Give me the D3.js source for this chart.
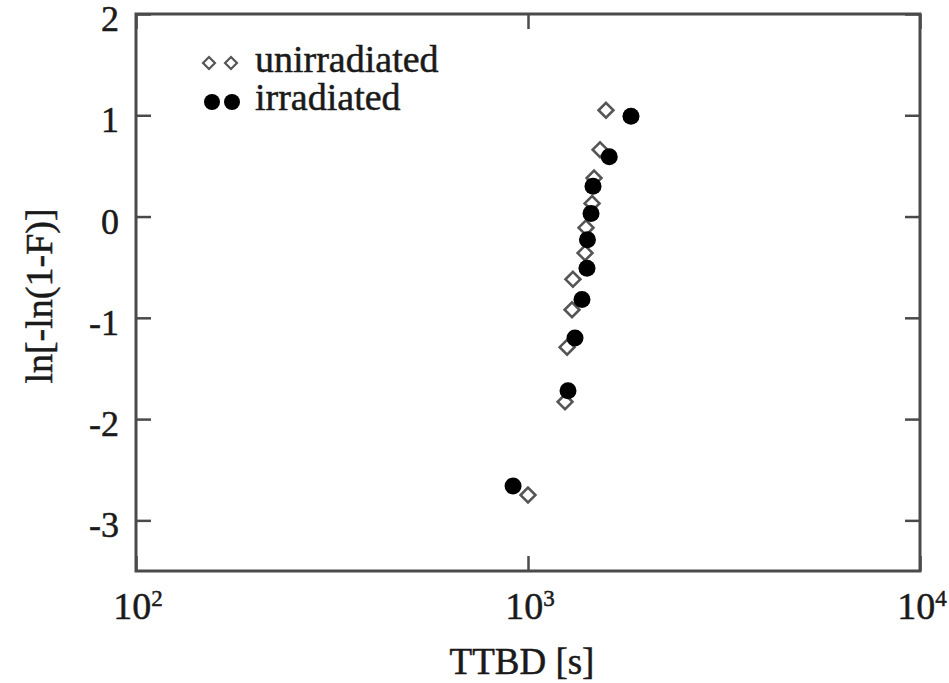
<!DOCTYPE html>
<html>
<head>
<meta charset="utf-8">
<script src="https://cdn.jsdelivr.net/npm/d3@7"></script>
<style>
  html, body { margin: 0; padding: 0; background: #fff; }
  svg { display: block; }
  text { stroke: #1a1a1a; stroke-width: 0.5px; }
</style>
</head>
<body>
<svg id="chart" width="949" height="683" font-family="'Liberation Serif', 'Times New Roman', 'DejaVu Serif', serif"></svg>
<script>
// Weibull plot of time-to-breakdown (TTBD)
const ttbdUnirradiated = [1000, 1243, 1258, 1295, 1302, 1398, 1406, 1457, 1474, 1527, 1581];
const weibullUnirradiated = [-2.75, -1.83, -1.29, -0.92, -0.62, -0.36, -0.11, 0.13, 0.38, 0.66, 1.05];

const ttbdIrradiated = [916, 1265, 1318, 1373, 1414, 1418, 1448, 1465, 1612, 1831];
const weibullIrradiated = [-2.66, -1.72, -1.20, -0.82, -0.51, -0.23, 0.03, 0.30, 0.59, 0.99];

const xTickExponents = [2, 3, 4];
const yTicks = [-3, -2, -1, 0, 1, 2];
const seriesNames = ["unirradiated", "irradiated"];

const svg = d3.select("#chart");
const frame = { left: 136, right: 920, top: 14, bottom: 571 };

const x = d3.scaleLog().domain([100, 10000]).range([frame.left, frame.right]);
const y = d3.scaleLinear().domain([-3.5, 2]).range([frame.bottom, frame.top]);

const axisColor = "#4a4a4a";
const textColor = "#1a1a1a";
const tickLen = 15;

// inward ticks on all four sides
const xTickValues = xTickExponents.map(e => Math.pow(10, e));
const bottomAxis = d3.axisBottom(x).tickValues(xTickValues).tickSize(-tickLen).tickFormat("");
const topAxis = d3.axisTop(x).tickValues(xTickValues).tickSize(-tickLen).tickFormat("");
const leftAxis = d3.axisLeft(y).tickValues(yTicks).tickSize(-tickLen).tickFormat("");
const rightAxis = d3.axisRight(y).tickValues(yTicks).tickSize(-tickLen).tickFormat("");

function styleAxis(g) {
  g.select(".domain").remove();
  g.selectAll(".tick line").attr("stroke", axisColor).attr("stroke-width", 2.5);
}
svg.append("g").attr("transform", `translate(0,${frame.bottom})`).call(bottomAxis).call(styleAxis);
svg.append("g").attr("transform", `translate(0,${frame.top})`).call(topAxis).call(styleAxis);
svg.append("g").attr("transform", `translate(${frame.left},0)`).call(leftAxis).call(styleAxis);
svg.append("g").attr("transform", `translate(${frame.right},0)`).call(rightAxis).call(styleAxis);

// plot frame
svg.append("rect")
  .attr("x", frame.left).attr("y", frame.top)
  .attr("width", frame.right - frame.left).attr("height", frame.bottom - frame.top)
  .attr("fill", "none").attr("stroke", axisColor).attr("stroke-width", 3);

// y tick labels
svg.append("g").selectAll("text").data(yTicks).join("text")
  .attr("x", frame.left - 17)
  .attr("y", d => y(d) + 17)
  .attr("text-anchor", "end")
  .attr("fill", textColor)
  .style("font-size", "36px")
  .text(d => String(d));

// x tick labels as powers of ten
const xLabels = svg.append("g").selectAll("text").data(xTickExponents).join("text")
  .attr("x", d => x(Math.pow(10, d)) + 2)
  .attr("y", 619)
  .attr("text-anchor", "middle")
  .attr("fill", textColor)
  .style("font-size", "38px");
xLabels.append("tspan").text("10");
xLabels.append("tspan").attr("dy", -13).style("font-size", "23px").text(d => String(d));

// axis titles
svg.append("text")
  .attr("x", 522).attr("y", 674)
  .attr("text-anchor", "middle")
  .attr("fill", textColor)
  .style("font-size", "37px")
  .text("TTBD [s]");

svg.append("text")
  .attr("transform", "translate(52,296) rotate(-90)")
  .attr("text-anchor", "middle")
  .attr("fill", textColor)
  .style("font-size", "38px")
  .text("ln[-ln(1-F)]");

// markers
const diamond = d3.symbol().type(d3.symbolDiamond2);
const unirr = d3.zip(ttbdUnirradiated, weibullUnirradiated);
const irr = d3.zip(ttbdIrradiated, weibullIrradiated);

svg.append("g").selectAll("path").data(unirr).join("path")
  .attr("d", diamond.size(140)())
  .attr("transform", d => `translate(${x(d[0])},${y(d[1])})`)
  .attr("fill", "#fff").attr("stroke", "#555").attr("stroke-width", 2.6);

svg.append("g").selectAll("circle").data(irr).join("circle")
  .attr("cx", d => x(d[0])).attr("cy", d => y(d[1]))
  .attr("r", 8.5).attr("fill", "#000");

// legend
const legend = svg.append("g");
[209, 231].forEach(cx => {
  legend.append("path")
    .attr("d", d3.symbol().type(d3.symbolDiamond2).size(90)())
    .attr("transform", `translate(${cx},63)`)
    .attr("fill", "#fff").attr("stroke", "#555").attr("stroke-width", 2.2);
});
[212, 232].forEach(cx => {
  legend.append("circle").attr("cx", cx).attr("cy", 102).attr("r", 8).attr("fill", "#000");
});
legend.append("text").attr("x", 255).attr("y", 72).attr("fill", textColor).style("font-size", "38px").text(seriesNames[0]);
legend.append("text").attr("x", 255).attr("y", 110).attr("fill", textColor).style("font-size", "38px").text(seriesNames[1]);
</script>
</body>
</html>
